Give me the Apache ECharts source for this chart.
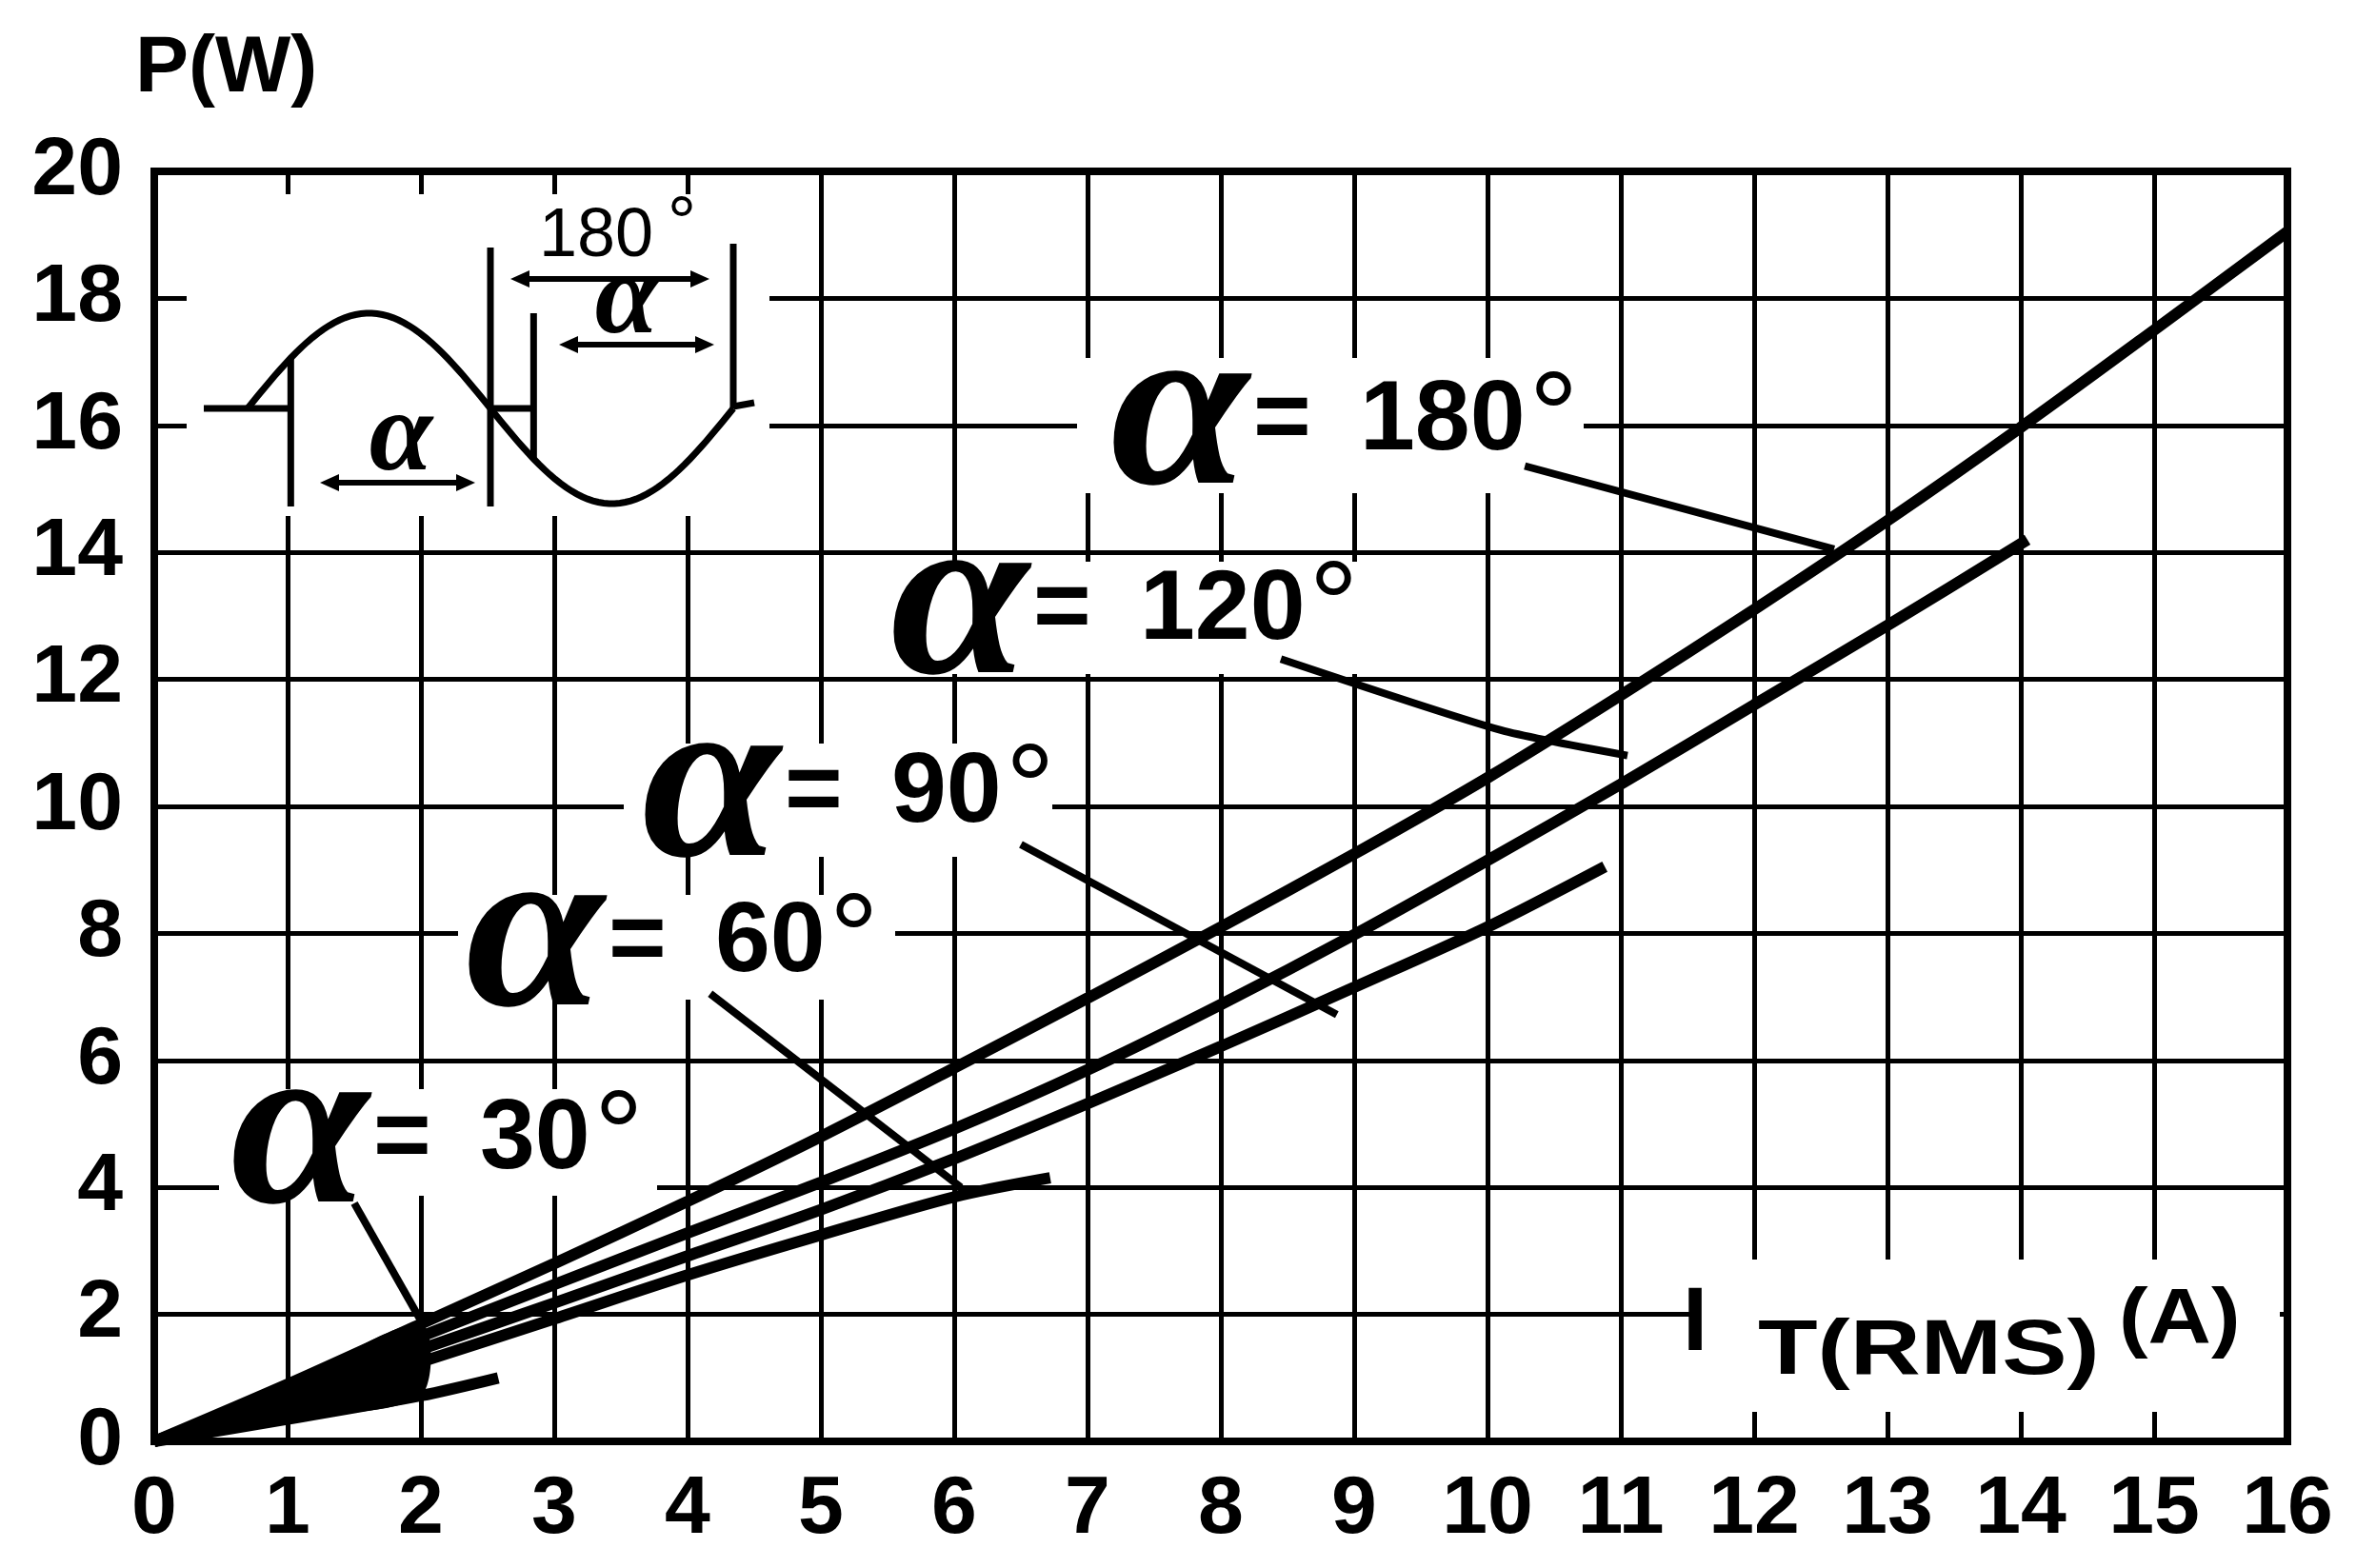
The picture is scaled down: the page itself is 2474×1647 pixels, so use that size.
<!DOCTYPE html>
<html><head><meta charset="utf-8">
<script src="https://cdn.jsdelivr.net/npm/echarts@6/dist/echarts.min.js"></script>
<style>html,body{margin:0;padding:0;background:#fff}#c{width:2474px;height:1647px}</style>
</head><body><div id="c"></div>
<script>
// ---- data ----
const xTicks = [0,1,2,3,4,5,6,7,8,9,10,11,12,13,14,15,16];
const yTicks = [0,2,4,6,8,10,12,14,16,18,20];

const i180 = [0,1,2,3,4,5,6,7,8,9,10,11,12,13,14,15,16];
const p180 = [0,0.9,1.85,2.8,3.78,4.8,5.88,6.98,8.1,9.25,10.45,11.75,13.1,14.5,15.97,17.5,19.05];
const i120 = [0,1,2,3,4,5,6,7,8,9,10,11,12,13,14.05];
const p120 = [0,0.82,1.65,2.47,3.28,4.08,4.92,5.85,6.88,7.98,9.15,10.35,11.6,12.85,14.2];
const i90  = [0,1,2,3,4,5,6,7,8,9,10,10.88];
const p90  = [0,0.72,1.45,2.18,2.92,3.65,4.45,5.32,6.22,7.15,8.1,9.05];
const i60  = [0,1,2,3,4,5,6,6.72];
const p60  = [0,0.6,1.25,1.93,2.62,3.25,3.85,4.15];
const i30  = [0,1,2,2.58];
const p30  = [0,0.35,0.72,1.0];

// leader lines (annotation endpoints, in data units)
const lead180 = [[10.28,15.36],[12.6,14.05]];
const lead120 = [[8.45,12.32],[10.1,11.2],[11.05,10.8]];
const lead90  = [[6.5,9.4],[8.87,6.72]];
const lead60  = [[4.17,7.05],[6.05,4.0]];
const lead30  = [[1.5,3.75],[2.0,1.9]];

const angleTexts = ['30','60','90','120','180'];
const yName = 'P(W)';
const xNameMain = 'I', xNameSub = 'T(RMS)', xNameUnit = '(A)';

// ---- layout (pixels) ----
const G = {left:162, right:72, top:180, bottom:133};
const labelLayout = [
  {L:504,  B:1234, box:[230,1144,690,1256]},
  {L:751,  B:1027, box:[481,940,940,1050]},
  {L:936,  B:870,  box:[655,781,1105,900]},
  {L:1197, B:678,  box:[930,590,1425,708]},
  {L:1428, B:479,  box:[1131,376,1663,518]}
];

const ctx = document.createElement('canvas').getContext('2d');
function tw(t, f){ ctx.font = f; return ctx.measureText(t).width; }

const chart = echarts.init(document.getElementById('c'), null, {renderer:'canvas'});
function pairs(xs, ys){ return xs.map((x,i)=>[x, ys[i]]); }

const curveStyle = {color:'#000', width:12};
const leadStyle = {color:'#000', width:8};
const series = [];
[[i30,p30],[i60,p60],[i90,p90],[i120,p120],[i180,p180]].forEach(([xs,ys],k)=>{
  series.push({type:'line', name:'α='+angleTexts[k]+'°', data:pairs(xs,ys), showSymbol:false, symbol:'none',
    smooth:0.3, lineStyle:curveStyle, z:5, silent:true});
});
[lead30,lead60,lead90,lead120,lead180].forEach(d=>{
  series.push({type:'line', data:d, showSymbol:false, symbol:'none', smooth:0.2, lineStyle:leadStyle, z:5, silent:true});
});
// dense ink wedge where all curves merge near the origin (between the 30° and 180° curves, I <= 2 A)
const wedge = pairs(i180,p180).filter(p=>p[0]<=2).concat(pairs(i30,p30).filter(p=>p[0]<=2).reverse());
series.push({type:'custom', data:[0], z:4, silent:true,
  renderItem:(params, api)=>({type:'polygon', shape:{points:wedge.map(p=>api.coord(p)), smooth:0.3}, style:{fill:'#000'}})});

const graphic = [];
function rect(x1,y1,x2,y2){ graphic.push({type:'rect', z:1, shape:{x:x1,y:y1,width:x2-x1,height:y2-y1}, style:{fill:'#fff'}}); }
rect(196,204,808,542);
rect(1775,1323,2394,1483);
labelLayout.forEach(l=>rect(l.box[0],l.box[1],l.box[2],l.box[3]));

function txt(text, x, y, font, align, sx){
  graphic.push({type:'text', z:10, x:x, y:y, scaleX:sx||1, scaleY:1,
    style:{text, x:0, y:0, font, fill:'#000', textAlign:align||'left', textVerticalAlign:'middle'}});
}
const AF = 250;
const alphaFont = 'italic bold '+AF+'px "Liberation Serif"';
const numFont = 'bold 104px "Liberation Sans"';
const DF = 130;
const degFont = DF+'px "Liberation Sans"';
labelLayout.forEach((l,k)=>{
  txt('α', l.L-262, l.B+23-0.238*AF, alphaFont, 'left', 1.05);
  txt('=', l.L-112, l.B-0.3465*104, numFont);
  txt(angleTexts[k], l.L, l.B-0.3465*104, numFont);
  const w = tw(angleTexts[k], numFont);
  txt('°', l.L+w+4, l.B-65+0.24*DF, degFont);
});

// axis names
txt(yName, 142, 73, 'bold 84px "Liberation Sans"');
txt(xNameMain, 1767, 1425-0.3465*94, 'bold 94px "Liberation Sans"');
txt(xNameSub, 1846, 1449-0.3465*82, 'bold 82px "Liberation Sans"', 'left', 1.25);
txt(xNameUnit, 2225, 1416-0.3465*82, 'bold 82px "Liberation Sans"', 'left', 1.12);

// inset waveform sketch
(function(){
  const x0=260, half=255, y0=429, A=100, lw=7;
  const pts=[];
  for(let t=0;t<=360;t+=4){ pts.push([x0+half*t/180, y0-A*Math.sin(t*Math.PI/180)]); }
  graphic.push({type:'polyline', z:10, shape:{points:pts}, style:{stroke:'#000', lineWidth:lw, fill:null}});
  function ln(a,b,c,d,w){ graphic.push({type:'line', z:10, shape:{x1:a,y1:b,x2:c,y2:d}, style:{stroke:'#000', lineWidth:w||lw}}); }
  const f1 = x0+half*32/180, f2 = x0+half*212/180;
  ln(214,y0,f1,y0);
  ln(f1, y0-A*Math.sin(32*Math.PI/180), f1, 532);
  ln(x0+half, 260, x0+half, 532);
  ln(x0+half, y0, f2, y0);
  ln(f2, 329, f2, y0+A*Math.sin(32*Math.PI/180));
  ln(x0+2*half, 256, x0+2*half, y0);
  ln(x0+2*half, y0-2, x0+2*half+22, y0-6);
  function arrow(xa, xb, y){
    ln(xa+10, y, xb-10, y, 6);
    graphic.push({type:'polygon', z:10, shape:{points:[[xa,y],[xa+20,y-9],[xa+20,y+9]]}, style:{fill:'#000'}});
    graphic.push({type:'polygon', z:10, shape:{points:[[xb,y],[xb-20,y-9],[xb-20,y+9]]}, style:{fill:'#000'}});
  }
  arrow(336, 499, 507);
  arrow(536, 745, 293);
  arrow(587, 750, 362);
  txt('α', 421, 462, 'italic bold 120px "Liberation Serif"', 'center');
  txt('α', 658, 318, 'italic bold 120px "Liberation Serif"', 'center');
  txt('180', 626, 249, '72px "Liberation Sans"', 'center');
  txt('°', 716, 238, '76px "Liberation Sans"', 'center');
})();

const labelStyle = {fontSize:86, fontWeight:'bold', fontFamily:'Liberation Sans', color:'#000'};
chart.setOption({
  animation:false,
  backgroundColor:'#fff',
  grid:{left:G.left, right:G.right, top:G.top, bottom:G.bottom, show:true, borderColor:'#000', borderWidth:8, backgroundColor:'transparent'},
  xAxis:{type:'value', min:xTicks[0], max:xTicks[xTicks.length-1], interval:xTicks[1]-xTicks[0],
    axisLine:{show:false}, axisTick:{show:false},
    splitLine:{show:true, lineStyle:{color:'#000', width:5}},
    axisLabel:Object.assign({margin:29, formatter:v=>String(v)}, labelStyle)},
  yAxis:{type:'value', min:yTicks[0], max:yTicks[yTicks.length-1], interval:yTicks[1]-yTicks[0],
    axisLine:{show:false}, axisTick:{show:false},
    splitLine:{show:true, lineStyle:{color:'#000', width:5}},
    axisLabel:Object.assign({margin:33, formatter:v=>String(v)}, labelStyle)},
  series:series,
  graphic:graphic
});
</script></body></html>
